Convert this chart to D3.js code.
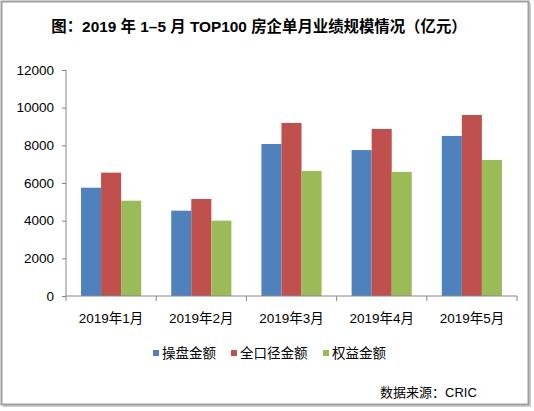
<!DOCTYPE html>
<meta charset="utf-8">
<head>
  <title>TOP100 房企单月业绩规模</title>
</head>
<style>
body { margin: 0; background: #fff; }
svg { display: block; font-family: "Liberation Sans", Arial, "Noto Sans CJK SC", sans-serif; }
.axis path, .axis line { stroke: #868686; }
.axis text { font-size: 13.5px; fill: #000; }
</style>
<body>
  <svg width="534" height="411"></svg>
  <script src="https://cdnjs.cloudflare.com/ajax/libs/d3/7.8.5/d3.min.js"></script>
  <script>

// values (亿元)
var months = ["2019年1月", "2019年2月", "2019年3月", "2019年4月", "2019年5月"];
var seriesNames = ["操盘金额", "全口径金额", "权益金额"];
var caopan = [5750, 4530, 8070, 7750, 8500];
var quankoujing = [6550, 5150, 9190, 8870, 9610];
var quanyi = [5060, 4000, 6640, 6590, 7220];
var yTicks = [0, 2000, 4000, 6000, 8000, 10000, 12000];
var colors = ["#4F81BD", "#C0504D", "#9BBB59"];

var series = [caopan, quankoujing, quanyi];

var svg = d3.select("svg");

// frame with a little shadow
svg.append("rect").attr("x", 3).attr("y", 3).attr("width", 528).attr("height", 404)
    .attr("fill", "#d0d0d0");
svg.append("rect").attr("x", 1.5).attr("y", 1.5).attr("width", 527).attr("height", 403)
    .attr("fill", "#fff").attr("stroke", "#a0a0a0").attr("stroke-width", 2);

svg.append("text")
    .attr("x", 259).attr("y", 32)
    .attr("text-anchor", "middle")
    .style("font-size", "15.4px").style("font-weight", "bold")
    .text("图：2019 年 1–5 月 TOP100 房企单月业绩规模情况（亿元）");

var plotLeft = 66, plotRight = 517, plotTop = 70, plotBottom = 296;

var x = d3.scaleBand().domain(months).range([plotLeft, plotRight]).paddingInner(0.333).paddingOuter(0.1667);
var x0 = d3.scaleBand().domain(months).range([plotLeft, plotRight]);
var xs = d3.scaleBand().domain(seriesNames).range([0, x.bandwidth()]);
var y = d3.scaleLinear().domain([0, 12000]).range([plotBottom, plotTop]);

// bars
series.forEach(function(vals, si) {
    svg.append("g").selectAll("rect")
        .data(vals)
        .enter().append("rect")
        .attr("x", (d, i) => x(months[i]) + xs(seriesNames[si]))
        .attr("width", xs.bandwidth())
        .attr("y", d => y(d))
        .attr("height", d => y(0) - y(d))
        .attr("fill", colors[si]);
});

// y axis
var yAxis = svg.append("g").attr("class", "axis")
    .attr("transform", "translate(" + plotLeft + ",0)")
    .call(d3.axisLeft(y).tickValues(yTicks).tickSize(4).tickPadding(8).tickFormat(d3.format("d")));
yAxis.select(".domain").attr("d", "M0," + plotTop + "V" + plotBottom);

// x axis with ticks at band edges
var xAxis = svg.append("g").attr("class", "axis")
    .attr("transform", "translate(0," + plotBottom + ")");
xAxis.append("line").attr("x1", plotLeft).attr("x2", plotRight).attr("stroke", "#868686");
xAxis.selectAll(".tk")
    .data(months.concat(["end"]))
    .enter().append("line")
    .attr("x1", (d, i) => i < months.length ? x0(d) : plotRight)
    .attr("x2", (d, i) => i < months.length ? x0(d) : plotRight)
    .attr("y2", 5).attr("stroke", "#868686");
xAxis.selectAll(".lbl")
    .data(months)
    .enter().append("text")
    .attr("x", d => x0(d) + x0.bandwidth() / 2)
    .attr("y", 27)
    .attr("text-anchor", "middle")
    .text(d => d);

// legend
var legendX = [153, 231, 323];
var legend = svg.append("g").selectAll("g")
    .data(seriesNames)
    .enter().append("g")
    .attr("transform", (d, i) => "translate(" + legendX[i] + ",350)");
legend.append("rect").attr("width", 6).attr("height", 6).attr("fill", (d, i) => colors[i]);
legend.append("text").attr("x", 9).attr("y", 8).style("font-size", "13.5px").text(d => d);

svg.append("text")
    .attr("x", 380).attr("y", 397)
    .style("font-size", "13px")
    .text("数据来源：CRIC");

  </script>
</body>
</html>
